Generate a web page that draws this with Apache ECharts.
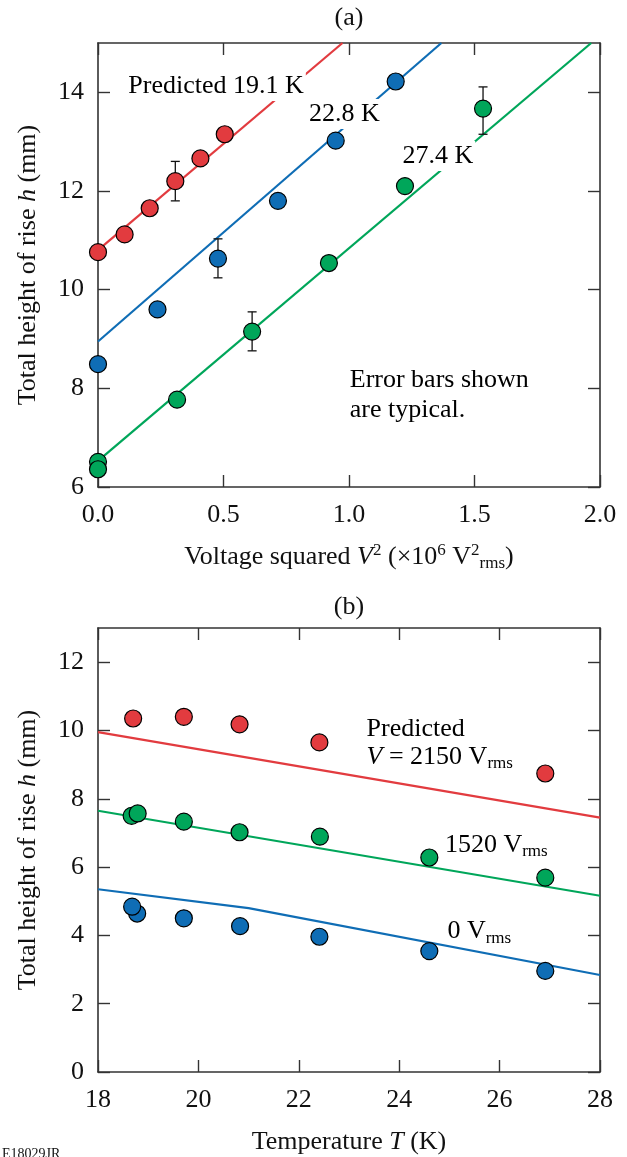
<!DOCTYPE html>
<html>
<head>
<meta charset="utf-8">
<script src="https://cdn.jsdelivr.net/npm/echarts@6/dist/echarts.min.js"></script>
<style>
  html, body { margin: 0; padding: 0; background: #fff; }
  #chart { width: 627px; height: 1157px; }
</style>
</head>
<body>
<div id="chart"></div>
<script>
// ---- Panel (a): total rise height vs. voltage squared (x10^6 Vrms^2) ----
const redV2   = [0.0, 0.106, 0.206, 0.308, 0.408, 0.505];
const redH    = [10.76, 11.12, 11.65, 12.20, 12.66, 13.15];
const blueV2  = [0.0, 0.237, 0.478, 0.717, 0.947, 1.186];
const blueH   = [8.49, 9.60, 10.63, 11.80, 13.02, 14.22];
const greenV2 = [0.0, 0.0, 0.315, 0.614, 0.920, 1.223, 1.534];
const greenH  = [6.51, 6.36, 7.77, 9.15, 10.54, 12.10, 13.67];

// predicted lines, 19.1 K / 22.8 K / 27.4 K
const redFitV2   = [0, 0.974];
const redFitH    = [10.80, 15.0];
const blueFitV2  = [0, 1.368];
const blueFitH   = [8.95, 15.0];
const greenFitV2 = [0, 1.965];
const greenFitH  = [6.53, 15.0];

// typical error bars
const errV2   = [0.308, 0.478, 0.614, 1.534];
const errLow  = [11.80, 10.24, 8.76, 13.15];
const errHigh = [12.60, 11.03, 9.55, 14.11];

// ---- Panel (b): total rise height vs. temperature (K) ----
const redT    = [18.70, 19.71, 20.82, 22.41, 26.91];
const redHb   = [10.35, 10.40, 10.18, 9.65, 8.74];
const greenT  = [18.67, 18.79, 19.71, 20.82, 22.42, 24.60, 26.91];
const greenHb = [7.50, 7.57, 7.33, 7.02, 6.89, 6.28, 5.69];
const blueT   = [18.78, 18.68, 19.71, 20.83, 22.41, 24.60, 26.91];
const blueHb  = [4.64, 4.84, 4.50, 4.27, 3.96, 3.54, 2.96];

// predicted lines, 2150 / 1520 / 0 Vrms
const redFitT    = [18, 28];
const redFitHb   = [9.95, 7.45];
const greenFitT  = [18, 28];
const greenFitHb = [7.65, 5.16];
const blueFitT   = [18, 21, 28];
const blueFitHb  = [5.35, 4.80, 2.84];

// tick values
const xTicksA = [0, 0.5, 1.0, 1.5, 2.0];
const yTicksA = [6, 8, 10, 12, 14];
const xTicksB = [18, 20, 22, 24, 26, 28];
const yTicksB = [0, 2, 4, 6, 8, 10, 12];

const RED = '#e23b3f', BLUE = '#0f6db5', GREEN = '#00a65a';
const FONT = "'Liberation Serif', 'Times New Roman', serif";
const FS = 26;
const AXIS_COLOR = '#333';

const zip = (a, b) => a.map((v, i) => [v, b[i]]);

const richBase = {
  t:   { fontFamily: FONT, fontSize: FS, lineHeight: 30, color: '#111' },
  i:   { fontFamily: FONT, fontSize: FS, lineHeight: 30, color: '#111', fontStyle: 'italic' },
  sup: { fontFamily: FONT, fontSize: 17, lineHeight: 22, color: '#111', verticalAlign: 'top' },
  sub: { fontFamily: FONT, fontSize: 17, lineHeight: 14, color: '#111', verticalAlign: 'bottom' }
};

function mainX(gridIndex, min, max, ticks, fmt, name, gap) {
  return {
    type: 'value', gridIndex, position: 'bottom', min, max,
    axisLine: { show: true, onZero: false, lineStyle: { color: AXIS_COLOR, width: 1.6 } },
    axisTick: { show: true, inside: true, length: 12, customValues: ticks, lineStyle: { color: AXIS_COLOR, width: 1.4 } },
    axisLabel: { show: true, customValues: ticks, formatter: fmt, margin: 15,
                 fontFamily: FONT, fontSize: FS, color: '#111' },
    splitLine: { show: false },
    name, nameLocation: 'middle', nameGap: gap,
    nameTextStyle: { rich: richBase }
  };
}
function mirrorX(gridIndex, min, max, ticks) {
  return {
    type: 'value', gridIndex, position: 'top', min, max,
    axisLine: { show: true, onZero: false, lineStyle: { color: AXIS_COLOR, width: 1.6 } },
    axisTick: { show: true, inside: true, length: 12, customValues: ticks, lineStyle: { color: AXIS_COLOR, width: 1.4 } },
    axisLabel: { show: false },
    splitLine: { show: false }
  };
}
function mainY(gridIndex, min, max, ticks, name) {
  return {
    type: 'value', gridIndex, position: 'left', min, max,
    axisLine: { show: true, onZero: false, lineStyle: { color: AXIS_COLOR, width: 1.6 } },
    axisTick: { show: true, inside: true, length: 12, customValues: ticks, lineStyle: { color: AXIS_COLOR, width: 1.4 } },
    axisLabel: { show: true, customValues: ticks, margin: 14,
                 fontFamily: FONT, fontSize: FS, color: '#111' },
    splitLine: { show: false },
    name, nameLocation: 'middle', nameGap: 55, nameRotate: 90,
    nameTextStyle: { rich: richBase }
  };
}
function mirrorY(gridIndex, min, max, ticks) {
  return {
    type: 'value', gridIndex, position: 'right', min, max,
    axisLine: { show: true, onZero: false, lineStyle: { color: AXIS_COLOR, width: 1.6 } },
    axisTick: { show: true, inside: true, length: 12, customValues: ticks, lineStyle: { color: AXIS_COLOR, width: 1.4 } },
    axisLabel: { show: false },
    splitLine: { show: false }
  };
}

function dots(xIdx, yIdx, xs, ys, color) {
  return {
    type: 'scatter', xAxisIndex: xIdx, yAxisIndex: yIdx, data: zip(xs, ys),
    symbol: 'circle', symbolSize: 17, z: 5,
    itemStyle: { color, borderColor: '#000', borderWidth: 1.2, opacity: 1 },
    emphasis: { disabled: true }, silent: true
  };
}
function fit(xIdx, yIdx, xs, ys, color) {
  return {
    type: 'line', xAxisIndex: xIdx, yAxisIndex: yIdx, data: zip(xs, ys),
    showSymbol: false, symbol: 'none', z: 3, silent: true,
    lineStyle: { color, width: 2.2 }, animation: false
  };
}

const yNameTpl = '{t|Total height of rise }{i|h}{t| (mm)}';

const option = {
  animation: false,
  backgroundColor: '#fff',
  grid: [
    { left: 98, right: 27, top: 43, height: 444 },
    { left: 98, right: 27, top: 628, height: 444 }
  ],
  xAxis: [
    mainX(0, 0, 2, xTicksA, v => v.toFixed(1),
      '{t|Voltage squared }{i|V}{sup|2}{t| (×10}{sup|6}{t| V}{sup|2}{sub|rms}{t|)}', 55),
    mirrorX(0, 0, 2, xTicksA),
    mainX(1, 18, 28, xTicksB, v => String(v), '{t|Temperature }{i|T}{t| (K)}', 55),
    mirrorX(1, 18, 28, xTicksB)
  ],
  yAxis: [
    mainY(0, 6, 15, yTicksA, yNameTpl),
    mirrorY(0, 6, 15, yTicksA),
    mainY(1, 0, 13, yTicksB, yNameTpl),
    mirrorY(1, 0, 13, yTicksB)
  ],
  series: [
    fit(0, 0, redFitV2, redFitH, RED),
    fit(0, 0, blueFitV2, blueFitH, BLUE),
    fit(0, 0, greenFitV2, greenFitH, GREEN),
    {
      type: 'custom', xAxisIndex: 0, yAxisIndex: 0, z: 4, silent: true,
      data: errV2.map((x, i) => [x, errLow[i], errHigh[i]]),
      renderItem(params, api) {
        const x = api.value(0);
        const lo = api.coord([x, api.value(1)]);
        const hi = api.coord([x, api.value(2)]);
        const hw = 4.5;
        const st = { stroke: '#111', lineWidth: 1.3 };
        return {
          type: 'group',
          children: [
            { type: 'line', shape: { x1: lo[0], y1: lo[1], x2: hi[0], y2: hi[1] }, style: st },
            { type: 'line', shape: { x1: lo[0] - hw, y1: lo[1], x2: lo[0] + hw, y2: lo[1] }, style: st },
            { type: 'line', shape: { x1: hi[0] - hw, y1: hi[1], x2: hi[0] + hw, y2: hi[1] }, style: st }
          ]
        };
      }
    },
    dots(0, 0, redV2, redH, RED),
    dots(0, 0, blueV2, blueH, BLUE),
    dots(0, 0, greenV2, greenH, GREEN),

    fit(2, 2, redFitT, redFitHb, RED),
    fit(2, 2, greenFitT, greenFitHb, GREEN),
    fit(2, 2, blueFitT, blueFitHb, BLUE),
    dots(2, 2, redT, redHb, RED),
    dots(2, 2, greenT, greenHb, GREEN),
    dots(2, 2, blueT, blueHb, BLUE)
  ]
};

const chart = echarts.init(document.getElementById('chart'), null, { renderer: 'canvas' });
chart.setOption(option);

// annotations placed in data coordinates
const notesA = [
  { x: 0.113, y: 14.13, text: '{t|Predicted 19.1 K}', bg: true },
  { x: 0.833, y: 13.56, text: '{t|22.8 K}', bg: true },
  { x: 1.205, y: 12.71, text: '{t|27.4 K}', bg: true },
  { x: 1.003, y: 8.17,  text: '{t|Error bars shown}' },
  { x: 1.003, y: 7.56,  text: '{t|are typical.}' }
];
const notesB = [
  { x: 23.35, y: 10.04, text: '{t|Predicted}' },
  { x: 23.35, y: 9.22,  text: '{i|V}{t| = 2150 V}{sub|rms}' },
  { x: 24.91, y: 6.64,  text: '{t|1520 V}{sub|rms}' },
  { x: 24.96, y: 4.11,  text: '{t|0 V}{sub|rms}' }
];

function noteGraphic(gridIndex, n) {
  const p = chart.convertToPixel({ gridIndex }, [n.x, n.y]);
  const style = {
    text: n.text, x: p[0], y: p[1], align: 'left', verticalAlign: 'middle',
    rich: richBase
  };
  if (n.bg) { style.backgroundColor = '#fff'; style.padding = [0, 2, 0, 2]; }
  return { type: 'text', z: 50, silent: true, style };
}

const cA = chart.convertToPixel({ gridIndex: 0 }, [1.0, 15]);
const cB = chart.convertToPixel({ gridIndex: 1 }, [23, 13]);

chart.setOption({
  graphic: [
    ...notesA.map(n => noteGraphic(0, n)),
    ...notesB.map(n => noteGraphic(1, n)),
    { type: 'text', z: 50, silent: true,
      style: { text: '(a)', x: cA[0], y: 18, align: 'center', verticalAlign: 'middle',
               font: `${FS}px ${FONT}`, fill: '#111' } },
    { type: 'text', z: 50, silent: true,
      style: { text: '(b)', x: cB[0], y: 607, align: 'center', verticalAlign: 'middle',
               font: `${FS}px ${FONT}`, fill: '#111' } },
    { type: 'text', z: 50, silent: true,
      style: { text: 'E18029JR', x: 2, y: 1147, align: 'left', verticalAlign: 'top',
               font: `14px ${FONT}`, fill: '#111' } }
  ]
});
</script>
</body>
</html>
